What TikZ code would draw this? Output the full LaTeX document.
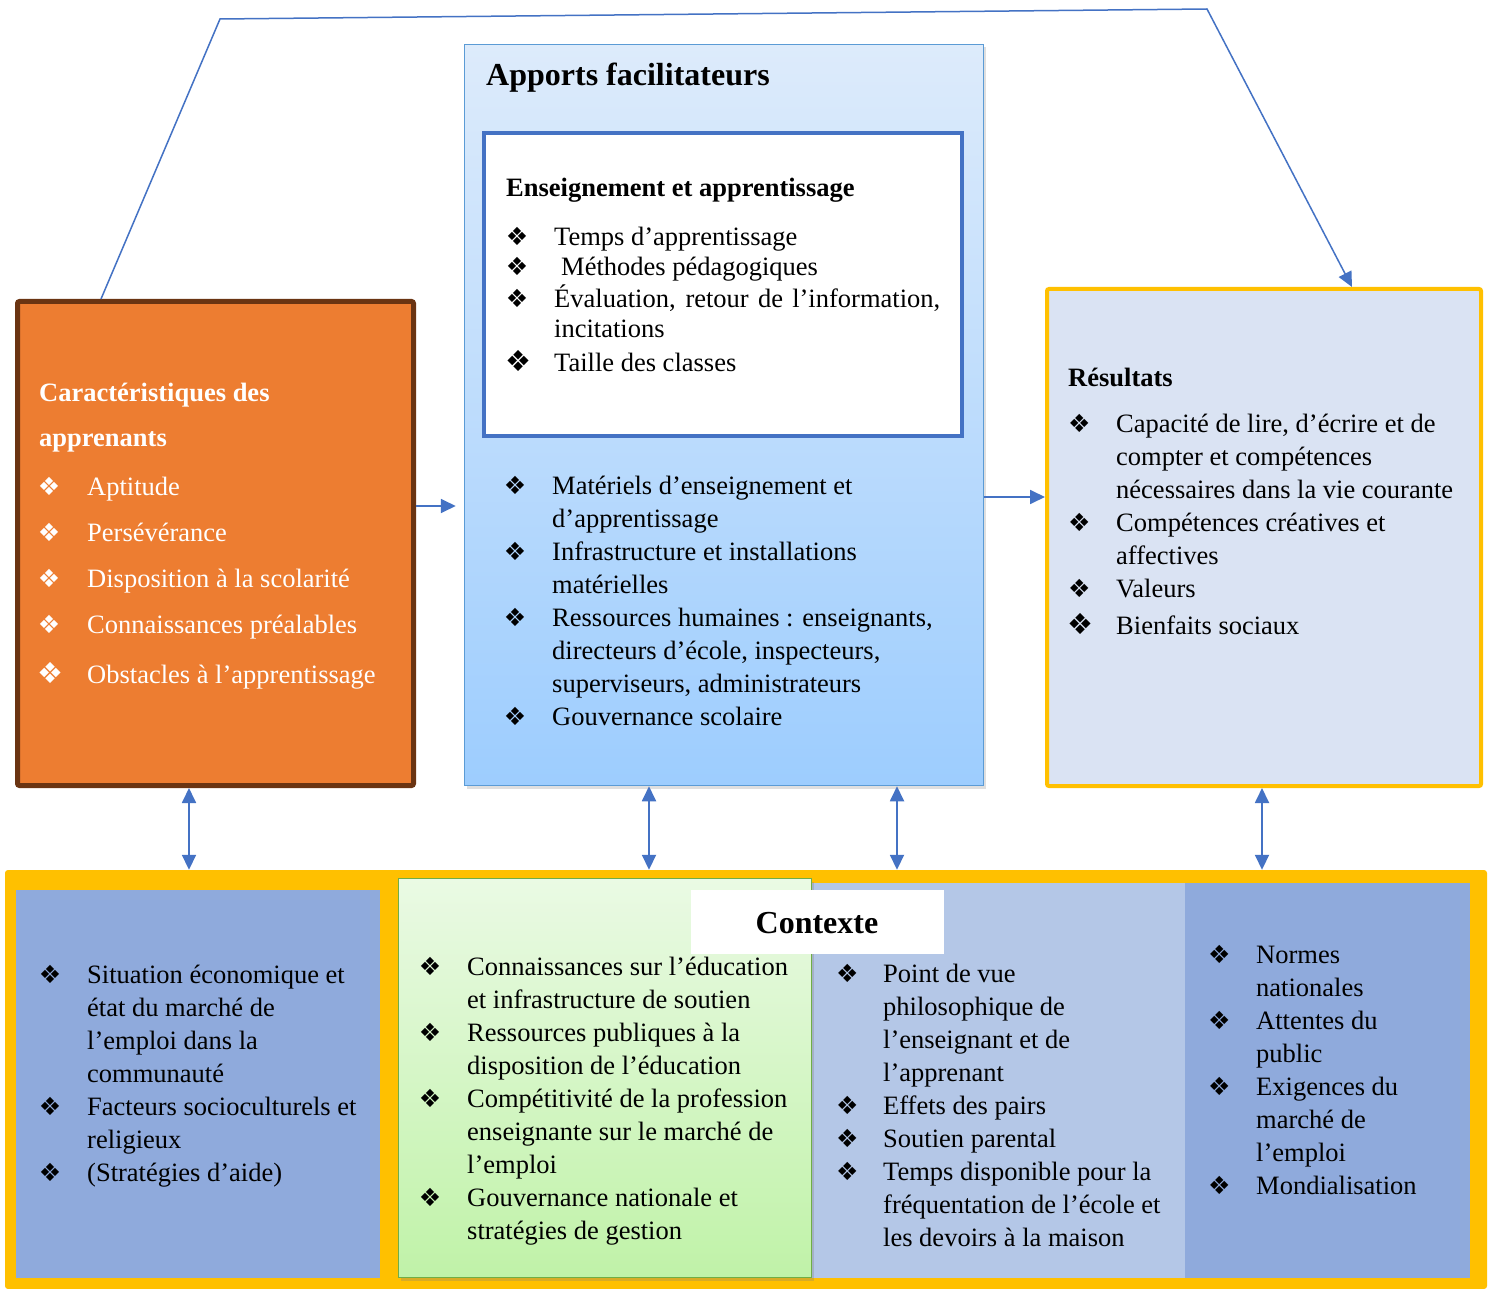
\documentclass[tikz,border=0pt]{standalone}
\usepackage{fontspec}
\setmainfont{Liberation Serif}
\newfontfamily\djv{DejaVu Sans}
\usetikzlibrary{arrows.meta,shadows}
\definecolor{corange}{HTML}{ED7D31}
\definecolor{cbrown}{HTML}{6A3412}
\definecolor{cblue}{HTML}{4472C4}
\definecolor{cborder}{HTML}{5B9BD5}
\definecolor{ctop}{HTML}{DDEBFB}
\definecolor{cbot}{HTML}{9DCDFE}
\definecolor{cyellow}{HTML}{FFC000}
\definecolor{cres}{HTML}{DAE3F3}
\definecolor{cpanA}{HTML}{8FAADC}
\definecolor{cpanB}{HTML}{B4C7E7}
\definecolor{cgtop}{HTML}{EAFAE4}
\definecolor{cgbot}{HTML}{C0F2A8}
\definecolor{cgreen}{HTML}{70AD47}
\newcommand\bul{\makebox[0pt]{\djv\fontsize{25}{25}\selectfont ❖}}
\newcommand\bulL{\makebox[0pt]{\hspace{3pt}\djv\fontsize{29}{29}\selectfont ❖}}
\begin{document}
\begin{tikzpicture}[x=1pt,y=-1pt,
  boxnode/.style={rectangle, inner sep=0pt},
  txt/.style={inner sep=0pt, anchor=base west, font=\fontsize{26.5}{33}\selectfont},
  conn/.style={draw=cblue, line width=1.8pt, -{Triangle[length=15pt,width=14pt]}},
  dconn/.style={draw=cblue, line width=1.8pt, {Triangle[length=15pt,width=14pt]}-{Triangle[length=15pt,width=14pt]}}]
\useasboundingbox (0,0) rectangle (1489,1289);
\fill[white] (0,0) rectangle (1489,1289);

% ---------- boxes ----------
\node[boxnode, draw=cbrown, fill=corange, line width=5pt, rounded corners=2pt,
  minimum width=396pt, minimum height=484pt] (learn) at (215.5,543.5) {};
\node[boxnode, draw=cborder, line width=1.5pt, top color=ctop, bottom color=cbot,
  drop shadow={shadow xshift=2pt, shadow yshift=-3pt, opacity=0.25},
  minimum width=519pt, minimum height=741pt] (inputs) at (724,415) {};
\node[boxnode, draw=cblue, fill=white, line width=4pt,
  minimum width=478pt, minimum height=303pt] (teach) at (723,284.5) {};
\node[boxnode, draw=cyellow, fill=cres, line width=4pt, rounded corners=2pt,
  minimum width=434pt, minimum height=497pt] (res) at (1264,537.5) {};

\node[boxnode, fill=cyellow, rounded corners=3pt,
  minimum width=1482pt, minimum height=419pt] (ctx) at (746,1079.5) {};
\node[boxnode, fill=cpanA, minimum width=364pt, minimum height=388pt] (pan1) at (198,1084) {};
\node[boxnode, fill=cpanB, minimum width=373pt, minimum height=395pt] (pan3) at (998.5,1080.5) {};
\node[boxnode, fill=cpanA, minimum width=285pt, minimum height=395pt] (pan4) at (1327.5,1080.5) {};
\node[boxnode, draw=cgreen, line width=1.5pt, top color=cgtop, bottom color=cgbot,
  drop shadow={shadow xshift=2pt, shadow yshift=-3pt, opacity=0.3},
  minimum width=413pt, minimum height=399pt] (pan2) at (605,1078) {};
\node[boxnode, fill=white, minimum width=253pt, minimum height=64pt] (ctxlab) at (817.5,922) {};
\node[inner sep=0pt, anchor=base, font=\fontsize{32}{36}\selectfont\bfseries] (ctxtitle) at (817,933) {Contexte};

% ---------- texts ----------
\node[inner sep=0pt, anchor=base west, font=\fontsize{32}{36}\selectfont\bfseries] (intitle) at (486,86) {Apports facilitateurs};

\node[inner sep=0pt, anchor=base west, font=\fontsize{26.5}{33}\selectfont\bfseries] (teachtitle) at (506,197) {Enseignement et apprentissage};
\node[txt, font=\fontsize{26.5}{30}\selectfont] (teachlist) at (517,246) {\begin{tabular}[t]{@{}l@{\hspace{37pt}}l@{}}
\bul & Temps d’apprentissage\\
\bul & \hspace{7pt}Méthodes pédagogiques\\
\bul & \makebox[386pt][s]{Évaluation, retour de l’information,}\\
 & incitations\\[4pt]
\bulL & Taille des classes
\end{tabular}};

\node[txt] (inlist) at (515,494) {\begin{tabular}[t]{@{}l@{\hspace{37pt}}l@{}}
\bul & Matériels d’enseignement et\\
 & d’apprentissage\\
\bul & Infrastructure et installations\\
 & matérielles\\
\bul & Ressources humaines : enseignants,\\
 & directeurs d’école, inspecteurs,\\
 & superviseurs, administrateurs\\
\bul & Gouvernance scolaire
\end{tabular}};

\node[inner sep=0pt, anchor=base west, text=white, font=\fontsize{26.5}{45}\selectfont\bfseries] (learntitle) at (39,401) {\begin{tabular}[t]{@{}l@{}}Caractéristiques des\\apprenants\end{tabular}};
\node[txt, text=white] (learnlist) at (49,495) {\begin{tabular}[t]{@{}l@{\hspace{38pt}}l@{}}
\bul & Aptitude\\[13pt]
\bul & Persévérance\\[13pt]
\bul & Disposition à la scolarité\\[13pt]
\bul & Connaissances préalables\\[17pt]
\bulL & Obstacles à l’apprentissage
\end{tabular}};

\node[inner sep=0pt, anchor=base west, font=\fontsize{26.5}{33}\selectfont\bfseries] (restitle) at (1068,386) {Résultats};
\node[txt] (reslist) at (1079,432) {\begin{tabular}[t]{@{}l@{\hspace{37pt}}l@{}}
\bul & Capacité de lire, d’écrire et de\\
 & compter et compétences\\
 & nécessaires dans la vie courante\\
\bul & Compétences créatives et\\
 & affectives\\
\bul & Valeurs\\[4pt]
\bulL & Bienfaits sociaux
\end{tabular}};

\node[txt] (list1) at (50,983) {\begin{tabular}[t]{@{}l@{\hspace{37pt}}l@{}}
\bul & Situation économique et\\
 & état du marché de\\
 & l’emploi dans la\\
 & communauté\\
\bul & Facteurs socioculturels et\\
 & religieux\\
\bul & (Stratégies d’aide)
\end{tabular}};

\node[txt] (list2) at (430,975) {\begin{tabular}[t]{@{}l@{\hspace{37pt}}l@{}}
\bul & Connaissances sur l’éducation\\
 & et infrastructure de soutien\\
\bul & Ressources publiques à la\\
 & disposition de l’éducation\\
\bul & Compétitivité de la profession\\
 & enseignante sur le marché de\\
 & l’emploi\\
\bul & Gouvernance nationale et\\
 & stratégies de gestion
\end{tabular}};

\node[txt] (list3) at (847,982) {\begin{tabular}[t]{@{}l@{\hspace{36pt}}l@{}}
\bul & Point de vue\\
 & philosophique de\\
 & l’enseignant et de\\
 & l’apprenant\\
\bul & Effets des pairs\\
\bul & Soutien parental\\
\bul & Temps disponible pour la\\
 & fréquentation de l’école et\\
 & les devoirs à la maison
\end{tabular}};

\node[txt] (list4) at (1219,963) {\begin{tabular}[t]{@{}l@{\hspace{37pt}}l@{}}
\bul & Normes\\
 & nationales\\
\bul & Attentes du\\
 & public\\
\bul & Exigences du\\
 & marché de\\
 & l’emploi\\
\bul & Mondialisation
\end{tabular}};

% ---------- connectors ----------
\coordinate (xa) at (101,0);
\coordinate (ka) at (220,19);
\coordinate (kb) at (1207,9);
\coordinate (xb) at (1352,0);
\coordinate (ya) at (0,506);
\coordinate (yb) at (0,497);
\coordinate (x1) at (189,0);
\coordinate (x2) at (649,0);
\coordinate (x3) at (897,0);
\coordinate (x4) at (1262,0);

\draw[conn, line width=1.5pt] (xa |- learn.north) -- (ka) -- (kb) -- (xb |- res.north);
\draw[conn] (learn.east |- ya) -- ([xshift=-8pt]inputs.west |- ya);
\draw[conn] (inputs.east |- yb) -- (res.west |- yb);
\draw[dconn] (x1 |- learn.south) -- (x1 |- ctx.north);
\draw[dconn] (x2 |- inputs.south) -- (x2 |- ctx.north);
\draw[dconn] (x3 |- inputs.south) -- (x3 |- ctx.north);
\draw[dconn] (x4 |- res.south) -- (x4 |- ctx.north);
\end{tikzpicture}
\end{document}
